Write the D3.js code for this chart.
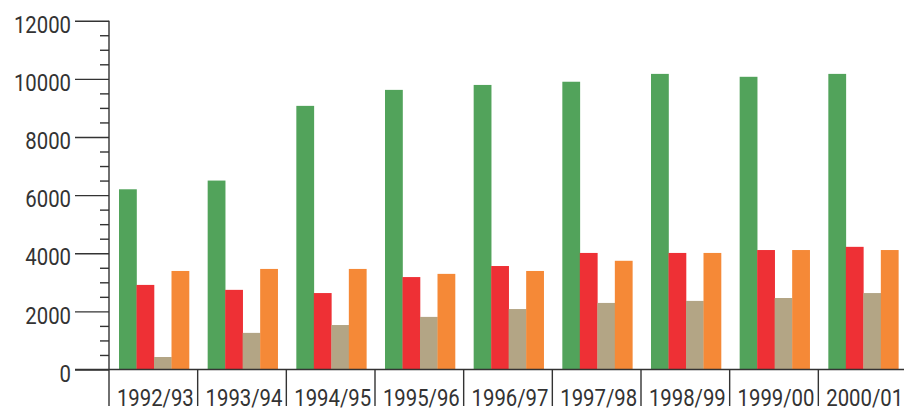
<!DOCTYPE html>
<html>
<head>
<meta charset="utf-8">
<script src="https://cdn.jsdelivr.net/npm/d3@7"></script>
<style>
  html, body { margin: 0; padding: 0; background: #fff; }
  svg { display: block; }
  .lbl { font-family: Roboto, "Liberation Sans", sans-serif; font-weight: 400; font-size: 24.5px; fill: #333; }
</style>
</head>
<body>
<svg id="chart" width="904" height="409"></svg>
<script>
// Seasons along the x axis
const seasons = ["1992/93", "1993/94", "1994/95", "1995/96", "1996/97", "1997/98", "1998/99", "1999/00", "2000/01"];

// Four series per season
const seriesGreen  = [6200, 6500, 9070, 9620, 9790, 9900, 10170, 10070, 10170];
const seriesRed    = [2910, 2740, 2630, 3180, 3560, 4010, 4010, 4110, 4220];
const seriesTan    = [430, 1260, 1530, 1810, 2080, 2290, 2360, 2460, 2630];
const seriesOrange = [3390, 3460, 3460, 3290, 3390, 3740, 4010, 4110, 4110];

const seriesNames = ["green", "red", "tan", "orange"];
const seriesColors = ["#52a35b", "#ee3035", "#b3a585", "#f58937"];
const seriesValues = [seriesGreen, seriesRed, seriesTan, seriesOrange];

const yMajorTicks = [0, 2000, 4000, 6000, 8000, 10000, 12000];

const svg = d3.select("#chart");
const axisColor = "#333";
const squeeze = 0.83; // horizontal compression for a condensed look

const y = d3.scaleLinear().domain([0, 12000]).range([369.5, 20.7]);
const x0 = d3.scaleBand().domain(seasons).range([109, 907]).paddingInner(0).paddingOuter(0);
const x1 = d3.scaleBand().domain(seriesNames).range([10, 80]);

// Bars
const groups = svg.append("g").selectAll("g")
  .data(seasons)
  .join("g")
  .attr("transform", d => `translate(${x0(d)},0)`);

groups.selectAll("rect")
  .data((d, i) => seriesNames.map((s, k) => ({ s, k, v: seriesValues[k][i] })))
  .join("rect")
  .attr("x", d => x1(d.s))
  .attr("width", x1.bandwidth() + 0.3)
  .attr("y", d => y(d.v))
  .attr("height", d => y(0) - y(d.v))
  .attr("fill", d => seriesColors[d.k]);

// Minor y ticks every 500
const minorTicks = d3.range(500, 12000, 500).filter(v => v % 2000 !== 0);
const yMinor = svg.append("g")
  .attr("transform", "translate(109,0)")
  .call(d3.axisLeft(y).tickValues(minorTicks).tickSize(9).tickFormat(""));
yMinor.select(".domain").remove();

// Major y ticks with labels
const yAxis = svg.append("g")
  .attr("transform", "translate(109,0)")
  .call(d3.axisLeft(y).tickValues(yMajorTicks).tickSize(34).tickPadding(4).tickFormat(d3.format("d")));
yAxis.attr("font-size", null).attr("font-family", null);
yAxis.select(".domain").attr("d", `M0,${y(12000)}V${y(0)}`);
yAxis.selectAll("text")
  .attr("class", "lbl")
  .attr("x", -38 / squeeze)
  .attr("dy", "0.48em")
  .attr("transform", `scale(${squeeze},1)`);

svg.selectAll(".tick line, .domain").attr("stroke", axisColor).attr("stroke-width", 1.4);

// X baseline
svg.append("line")
  .attr("x1", 75).attr("x2", 904)
  .attr("y1", y(0)).attr("y2", y(0))
  .attr("stroke", axisColor).attr("stroke-width", 1.4);

// Category separators below baseline
svg.append("g").selectAll("line")
  .data(seasons)
  .join("line")
  .attr("x1", d => x0(d)).attr("x2", d => x0(d))
  .attr("y1", y(0)).attr("y2", 406)
  .attr("stroke", axisColor).attr("stroke-width", 1.4);

// Category labels
svg.append("g").selectAll("text")
  .data(seasons)
  .join("text")
  .attr("class", "lbl")
  .attr("transform", d => `translate(${x0(d) + x0.bandwidth() / 2 + 2},406) scale(${squeeze},1)`)
  .attr("text-anchor", "middle")
  .text(d => d);
</script>
</body>
</html>
